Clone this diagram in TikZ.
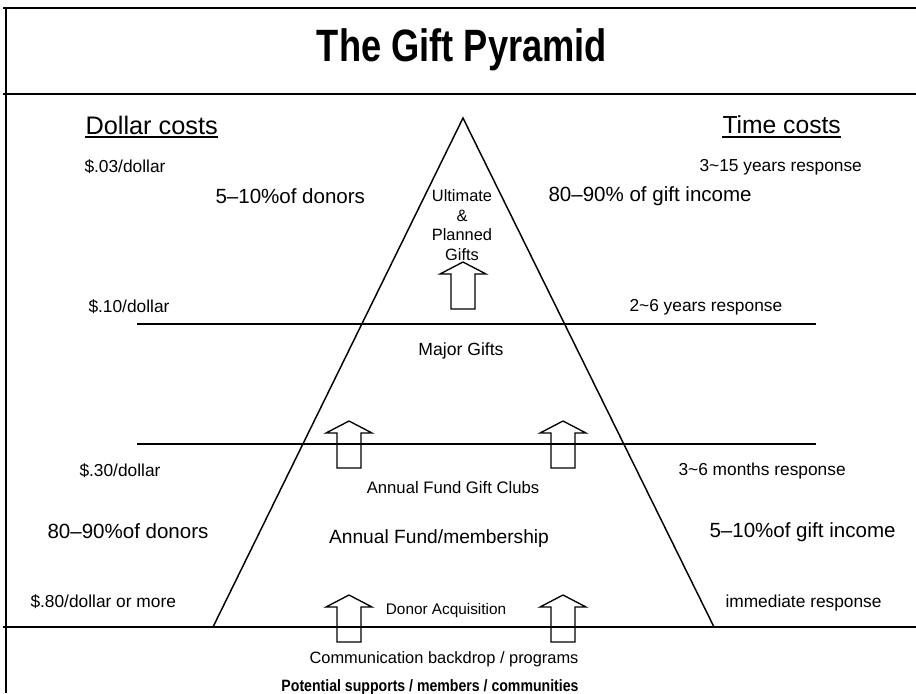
\documentclass[tikz,border=0pt]{standalone}
\usepackage{fontspec}
\setmainfont{Liberation Sans}
\usepackage{graphicx}
\tikzset{every picture/.style={line width=0.75pt}}

\begin{document}
\begin{tikzpicture}[x=0.75pt,y=0.75pt,yscale=-1,xscale=1]
%set diagram frame to 916 x 693
\useasboundingbox (0,0) rectangle (916,693);
%Straight Lines [id:frame_top] 
\draw [line width=1.5]   (3,8) -- (916,8) ;
%Straight Lines [id:frame_left] 
\draw [line width=1.5]   (6,8) -- (6,693) ;
%Straight Lines [id:title_rule] 
\draw [line width=1.5]   (3,94) -- (916,94) ;
%Straight Lines [id:base_rule] 
\draw [line width=1.5]   (3,627) -- (916,627) ;
%Shape: Triangle [id:pyramid] 
\draw [line width=1.1]   (213,627) -- (463,118) -- (714,627) ;
%Straight Lines [id:major_top] 
\draw [line width=1.3]   (137,324) -- (816,324) ;
%Straight Lines [id:major_bottom] 
\draw [line width=1.3]   (137,444) -- (816,444) ;
%Shape: Up Arrow [id:arrow_top] 
\draw [line width=1]   (463,262) -- (486,274) -- (475,274) -- (475,309) -- (451,309) -- (451,274) -- (440,274) -- cycle ;
%Shape: Up Arrow [id:arrow_midleft] 
\draw [line width=1]   (349,421) -- (372,433) -- (361,433) -- (361,468) -- (337,468) -- (337,433) -- (326,433) -- cycle ;
%Shape: Up Arrow [id:arrow_midright] 
\draw [line width=1]   (563,421) -- (586,433) -- (575,433) -- (575,468) -- (551,468) -- (551,433) -- (540,433) -- cycle ;
%Shape: Up Arrow [id:arrow_lowleft] 
\draw [line width=1]   (349,595) -- (372,607) -- (361,607) -- (361,642) -- (337,642) -- (337,607) -- (326,607) -- cycle ;
%Shape: Up Arrow [id:arrow_lowright] 
\draw [line width=1]   (563,595) -- (586,607) -- (575,607) -- (575,642) -- (551,642) -- (551,607) -- (540,607) -- cycle ;

% Text Node
\draw (462,50) node (title) [inner sep=0.75pt]  [font=\fontsize{34}{36}\selectfont\bfseries]  {\scalebox{0.8}[1]{The Gift Pyramid}};
% Text Node
\draw (85,125) node (dollarhead) [anchor=west][inner sep=0pt]  [font=\fontsize{19}{22}\selectfont]  {Dollar costs};
\draw [line width=1.2]  ([yshift=2.4pt]dollarhead.base west) -- ([yshift=2.4pt]dollarhead.base east) ;
% Text Node
\draw (722,125) node (timehead) [anchor=west][inner sep=0pt]  [font=\fontsize{18.5}{22}\selectfont]  {Time costs};
\draw [line width=1.2]  ([yshift=2.4pt]timehead.base west) -- ([yshift=2.4pt]timehead.base east) ;
% Text Node
\draw (83,167) node (cost03) [anchor=west][inner sep=0.75pt]  [font=\fontsize{13}{15}\selectfont]  {\$.03/dollar};
% Text Node
\draw (698,167) node (time315) [anchor=west][inner sep=0.75pt]  [font=\fontsize{13}{15}\selectfont]  {3\textasciitilde 15 years response};
% Text Node
\draw (214,196) node (fewdonors) [anchor=west][inner sep=0.75pt]  [font=\fontsize{15.4}{18}\selectfont]  {5–10\%of donors};
% Text Node
\draw (547,196) node (muchincome) [anchor=west][inner sep=0.75pt]  [font=\fontsize{15.4}{18}\selectfont]  {80–90\% of gift income};
% Text Node
\draw (462,225) node (ultimate) [align=center][inner sep=0.75pt]  [font=\fontsize{12.3}{14.6}\selectfont]  {Ultimate\\\&\\Planned\\Gifts};
% Text Node
\draw (87,307) node (cost10) [anchor=west][inner sep=0.75pt]  [font=\fontsize{13}{15}\selectfont]  {\$.10/dollar};
% Text Node
\draw (628,307) node (time26) [anchor=west][inner sep=0.75pt]  [font=\fontsize{13}{15}\selectfont]  {2\textasciitilde 6 years response};
% Text Node
\draw (461,351) node (major) [inner sep=0.75pt]  [font=\fontsize{13.2}{15}\selectfont]  {Major Gifts};
% Text Node
\draw (78,471) node (cost30) [anchor=west][inner sep=0.75pt]  [font=\fontsize{13}{15}\selectfont]  {\$.30/dollar};
% Text Node
\draw (677,471) node (time36) [anchor=west][inner sep=0.75pt]  [font=\fontsize{13}{15}\selectfont]  {3\textasciitilde 6 months response};
% Text Node
\draw (453,488) node (clubs) [inner sep=0.75pt]  [font=\fontsize{12.5}{15}\selectfont]  {Annual Fund Gift Clubs};
% Text Node
\draw (46,531) node (manydonors) [anchor=west][inner sep=0.75pt]  [font=\fontsize{15.4}{18}\selectfont]  {80–90\%of donors};
% Text Node
\draw (439,539) node (annual) [inner sep=0.75pt]  [font=\fontsize{14.4}{17}\selectfont]  {Annual Fund/membership};
% Text Node
\draw (708,532) node (littleincome) [anchor=west][inner sep=0.75pt]  [font=\fontsize{15.4}{18}\selectfont]  {5–10\%of gift income};
% Text Node
\draw (29,602) node (cost80) [anchor=west][inner sep=0.75pt]  [font=\fontsize{13}{15}\selectfont]  {\$.80/dollar or more};
% Text Node
\draw (446,611) node (acquisition) [inner sep=0.75pt]  [font=\fontsize{11.5}{14}\selectfont]  {Donor Acquisition};
% Text Node
\draw (724,603) node (immediate) [anchor=west][inner sep=0.75pt]  [font=\fontsize{13}{15}\selectfont]  {immediate response};
% Text Node
\draw (444,659) node (backdrop) [inner sep=0.75pt]  [font=\fontsize{12.3}{15}\selectfont]  {Communication backdrop / programs};
% Text Node
\draw (430,687) node (potential) [inner sep=0.75pt]  [font=\fontsize{12.3}{15}\selectfont\bfseries]  {\scalebox{0.86}[1]{Potential supports / members / communities}};
\end{tikzpicture}
\end{document}
